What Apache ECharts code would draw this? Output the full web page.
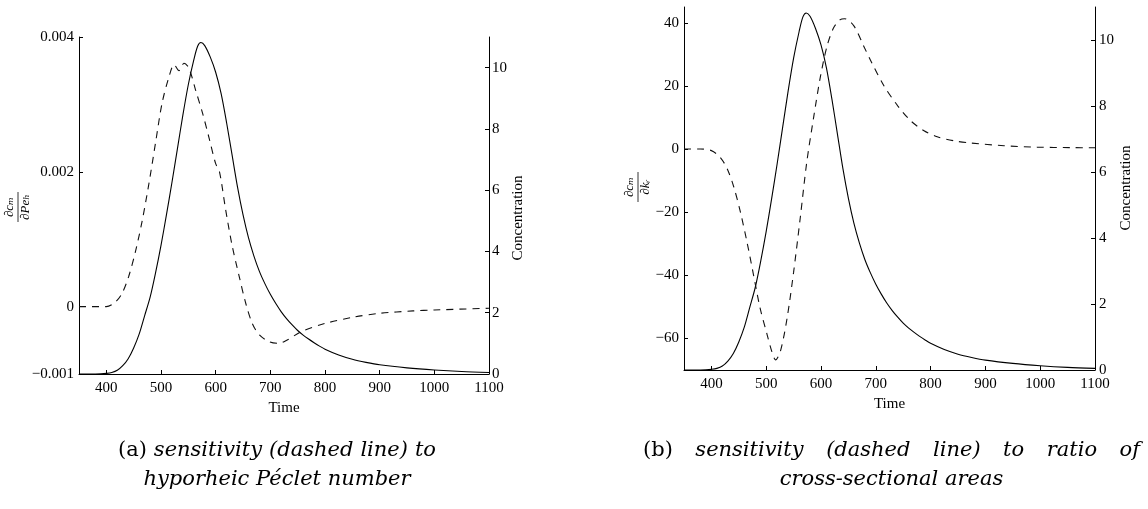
<!DOCTYPE html>
<html>
<head>
<meta charset="utf-8">
<script src="https://cdn.jsdelivr.net/npm/echarts@6/dist/echarts.min.js"></script>
<style>
html,body{margin:0;padding:0;background:#fff;}
#c{width:1148px;height:509px;}
</style>
</head>
<body>
<div id="c"></div>
<script>
// ---- data ----
var concTime = [350,380,390,400,410,420,430,440,450,460,470,480,490,500,510,520,530,540,550,560,567,573,580,590,600,610,620,630,640,650,660,670,680,690,700,710,720,730,740,750,760,770,780,790,800,825,850,875,900,950,1000,1050,1100];
var concValue = [0,0,0.005,0.02,0.05,0.12,0.27,0.5,0.85,1.3,1.9,2.5,3.3,4.2,5.2,6.25,7.35,8.45,9.45,10.25,10.7,10.82,10.72,10.35,9.85,9.15,8.2,7.15,6.1,5.2,4.45,3.85,3.35,2.95,2.6,2.3,2.03,1.8,1.6,1.42,1.27,1.14,1.02,0.91,0.81,0.62,0.48,0.38,0.3,0.2,0.13,0.08,0.05];

var peTime = [350,400,417,429,441,454,466,478,490,502,515,524,533,542,551,563,576,588,600,607,618,630,643,655,667,680,698,716,730,757,800,852,900,961,1000,1100];
var peValue = [0,0,0.00007,0.0002,0.00045,0.00084,0.00129,0.00183,0.00243,0.00302,0.00342,0.00359,0.0035,0.00361,0.00354,0.00322,0.00287,0.0025,0.00212,0.002,0.00145,0.00091,0.00045,0.00005,-0.00025,-0.00042,-0.00052,-0.000545,-0.0005,-0.00037,-0.00025,-0.000157,-0.0001,-0.000064,-0.00005,-0.000025];

var krTime = [350,380,400,416,429,441,453,465,477,489,502,510,517,526,538,550,562,574,587,599,611,623,635,643,660,678,691,715,740,764,788,812,843,873,934,994,1055,1100];
var krValue = [0,0,-0.5,-2.6,-6.3,-12.1,-20,-29.5,-40,-50.5,-59,-64,-66.8,-64,-53.7,-39,-22,-4.2,10.5,23,32.6,38.4,41,41.3,39,32.6,27.9,20,13.7,8.9,5.8,3.9,2.6,1.9,1.05,0.6,0.45,0.4];

var timeTicks = [400,500,600,700,800,900,1000,1100];
var peTicks = [-0.001,0,0.002,0.004];
var krTicks = [-60,-40,-20,0,20,40];
var concTicks = [0,2,4,6,8,10];

var captionA = ['(a)', 'sensitivity (dashed line) to', 'hyporheic Péclet number'];
var captionB = ['(b)', 'sensitivity (dashed line) to ratio of', 'cross-sectional areas'];

function pairs(t, v){ return t.map(function(x,i){ return [x, v[i]]; }); }
function fmt(v){ return v < 0 ? '\u2212' + String(-v) : String(v); }

var FONT = '"Liberation Serif", "DejaVu Serif", serif';
var CAPFONT = '"DejaVu Serif", serif';
var axisLineStyle = {show:true, onZero:false, lineStyle:{color:'#000', width:1}};
var tickStyle = {show:true, inside:true, length:4, lineStyle:{color:'#000', width:1}};
var labelBase = {color:'#000', fontFamily:FONT, fontSize:15};

function xAxisDef(grid, gap){
  return {
    type:'value', gridIndex:grid, min:350, max:1100,
    name:'Time', nameLocation:'middle', nameGap:gap,
    nameTextStyle:{color:'#000', fontFamily:FONT, fontSize:15},
    axisLine:axisLineStyle,
    axisTick:Object.assign({customValues:timeTicks}, tickStyle),
    axisLabel:Object.assign({customValues:timeTicks, margin:7, formatter:fmt}, labelBase),
    splitLine:{show:false}
  };
}
function yAxisDef(grid, pos, min, max, ticks, margin){
  return {
    type:'value', gridIndex:grid, position:pos, min:min, max:max,
    axisLine:axisLineStyle,
    axisTick:Object.assign({customValues:ticks}, tickStyle),
    axisLabel:Object.assign({customValues:ticks, margin:margin, formatter:fmt}, labelBase),
    splitLine:{show:false}
  };
}

function txtStyle(text, font, align){
  align = align || 'center';
  return {text:text, font:font, fill:'#000', align:align, verticalAlign:'middle', textAlign:align, textVerticalAlign:'middle'};
}
function fraction(x, y, num, den){
  return {
    type:'group', x:x, y:y, rotation:Math.PI/2,
    children:[
      {type:'text', x:0, y:-8, style:txtStyle(num, 'italic 13px ' + FONT)},
      {type:'line', shape:{x1:-15, y1:0, x2:15, y2:0}, style:{stroke:'#000', lineWidth:0.8}},
      {type:'text', x:0, y:8, style:txtStyle(den, 'italic 13px ' + FONT)}
    ]
  };
}
function vtext(x, y, txt){
  return {type:'text', x:x, y:y, rotation:Math.PI/2, style:txtStyle(txt, '15px ' + FONT)};
}

// justified first caption line (as LaTeX subcaption does), centred last line
var measureCtx = document.createElement('canvas').getContext('2d');
function textWidth(t, font){ measureCtx.font = font; return measureCtx.measureText(t).width; }
function caption(left, right, y, parts){
  var upFont = '21px ' + CAPFONT, itFont = 'italic 21px ' + CAPFONT;
  var words = [{t:parts[0], f:upFont}].concat(parts[1].split(' ').map(function(w){ return {t:w, f:itFont}; }));
  var widths = words.map(function(w){ return textWidth(w.t, w.f); });
  var total = widths.reduce(function(a,b){ return a+b; }, 0);
  var gap = (right - left - total) / (words.length - 1);
  var children = [];
  var x = left;
  words.forEach(function(w, i){
    children.push({type:'text', x:x, y:y, style:txtStyle(w.t, w.f, 'left')});
    x += widths[i] + gap;
  });
  children.push({type:'text', x:(left + right) / 2, y:y + 29, style:txtStyle(parts[2], itFont)});
  return {type:'group', children:children};
}

var chart = echarts.init(document.getElementById('c'), null, {renderer:'canvas'});
chart.setOption({
  animation:false,
  backgroundColor:'#fff',
  grid:[
    {left:79, top:37, width:410, height:337},
    {left:684, top:7, width:411, height:363}
  ],
  xAxis:[ xAxisDef(0, 19), xAxisDef(1, 22) ],
  yAxis:[
    yAxisDef(0, 'left', -0.001, 0.004, peTicks, 5),
    yAxisDef(0, 'right', 0, 11, concTicks, 3),
    yAxisDef(1, 'left', -70, 45, krTicks, 5),
    yAxisDef(1, 'right', 0, 11, concTicks, 4)
  ],
  series:[
    {type:'line', xAxisIndex:0, yAxisIndex:1, data:pairs(concTime, concValue), smooth:0.3, showSymbol:false,
     lineStyle:{color:'#000', width:1.1}},
    {type:'line', xAxisIndex:0, yAxisIndex:0, data:pairs(peTime, peValue), smooth:0.3, showSymbol:false,
     lineStyle:{color:'#111', width:1.1, type:[7,6]}},
    {type:'line', xAxisIndex:1, yAxisIndex:3, data:pairs(concTime, concValue), smooth:0.3, showSymbol:false,
     lineStyle:{color:'#000', width:1.1}},
    {type:'line', xAxisIndex:1, yAxisIndex:2, data:pairs(krTime, krValue), smooth:0.3, showSymbol:false,
     lineStyle:{color:'#111', width:1.1, type:[7,6]}}
  ],
  graphic:[
    fraction(18, 207, '\u2202c\u2098', '\u2202Pe\u2095'),
    fraction(638, 187, '\u2202c\u2098', '\u2202k\u1D63'),
    vtext(518, 218, 'Concentration'),
    vtext(1126, 188, 'Concentration'),
    caption(118, 436, 451, captionA),
    caption(643, 1140, 451, captionB)
  ]
});
</script>
</body>
</html>
